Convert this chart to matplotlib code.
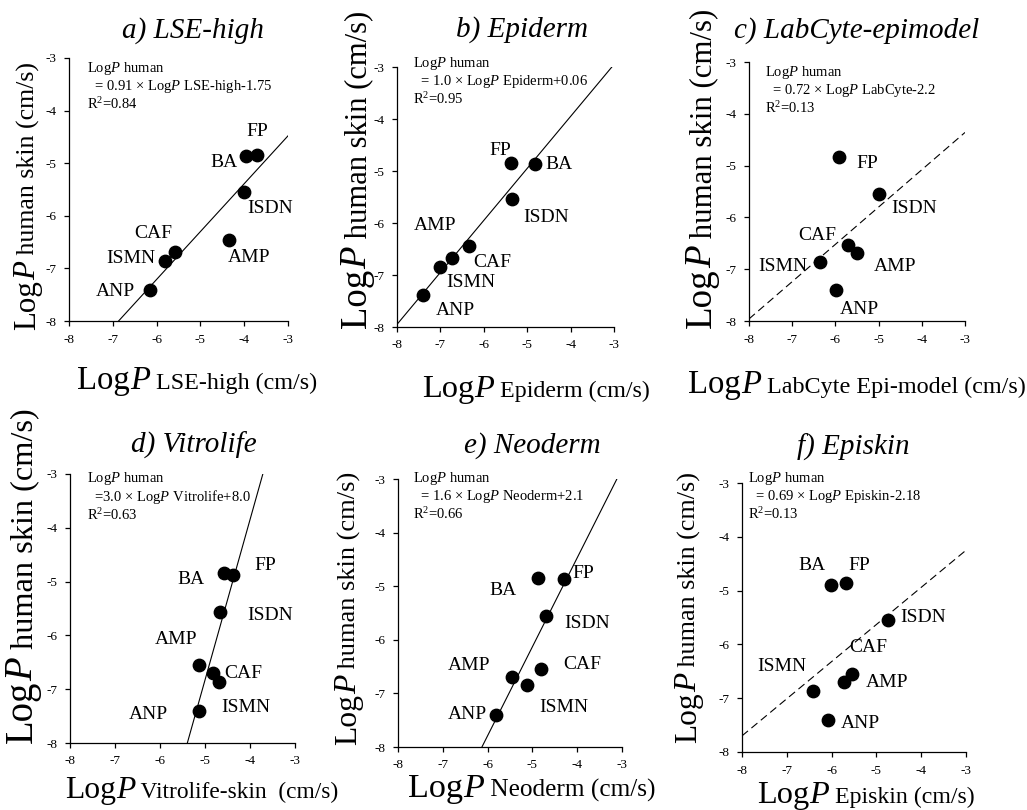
import matplotlib
matplotlib.use("Agg")
import matplotlib.pyplot as plt
import numpy as np
from matplotlib.transforms import IdentityTransform

plt.rcParams['font.family'] = ['Liberation Serif', 'DejaVu Serif']
plt.rcParams['mathtext.fontset'] = 'custom'
plt.rcParams['mathtext.rm'] = 'Liberation Serif'
plt.rcParams['mathtext.it'] = 'Liberation Serif:italic'

W, H = 1027, 810
DPI = 100

# ---------------- data ----------------
compounds = ["FP", "BA", "ISDN", "AMP", "CAF", "ISMN", "ANP"]

x_lse = [-3.71, -3.95, -4.00, -4.35, -5.58, -5.80, -6.14]
y_lse = [-4.84, -4.87, -5.55, -6.46, -6.68, -6.86, -7.41]

x_epiderm = [-5.37, -4.82, -5.35, -6.33, -6.73, -7.02, -7.39]
y_epiderm = [-4.85, -4.87, -5.54, -6.45, -6.67, -6.85, -7.39]

x_labcyte = [-5.91, None, -4.98, -5.70, -5.51, -6.35, -5.99]
y_labcyte = [-4.84, None, -5.55, -6.53, -6.69, -6.86, -7.41]

x_vitro = [-4.37, -4.57, -4.67, -5.14, -4.82, -4.70, -5.14]
y_vitro = [-4.87, -4.84, -5.56, -6.55, -6.69, -6.86, -7.41]

x_neo = [-4.29, -4.88, -4.70, -5.46, -4.80, -5.11, -5.81]
y_neo = [-4.87, -4.84, -5.55, -6.69, -6.54, -6.85, -7.40]

x_episkin = [-5.68, -6.01, -4.74, -5.72, -5.54, -6.42, -6.08]
y_episkin = [-4.85, -4.89, -5.55, -6.70, -6.55, -6.86, -7.41]

# regression lines as drawn (slope, intercept)
fit_slopes = [0.91, 1.0, 0.72, 2.98, 1.66, 0.69]
fit_intercepts = [-1.75, 0.05, -2.2, 8.07, 2.17, -2.18]
fit_dashed = [False, False, True, False, False, True]

titles = ["a) LSE-high", "b) Epiderm", "c) LabCyte-epimodel",
          "d) Vitrolife", "e) Neoderm", "f) Episkin"]
x_names = ["LSE-high (cm/s)", "Epiderm (cm/s)", "LabCyte Epi-model (cm/s)",
           "Vitrolife-skin  (cm/s)", "Neoderm (cm/s)", "Episkin (cm/s)"]
eq_lines = ["  = 0.91 \u00d7 Log$\\it{P}$ LSE-high-1.75",
            "  = 1.0 \u00d7 Log$\\it{P}$ Epiderm+0.06",
            "  = 0.72 \u00d7 Log$\\it{P}$ LabCyte-2.2",
            "  =3.0 \u00d7 Log$\\it{P}$ Vitrolife+8.0",
            "  = 1.6 \u00d7 Log$\\it{P}$ Neoderm+2.1",
            "  = 0.69 \u00d7 Log$\\it{P}$ Episkin-2.18"]
r2_values = ["0.84", "0.95", "0.13", "0.63", "0.66", "0.13"]

tick_values = [-8, -7, -6, -5, -4, -3]

panels_x = [x_lse, x_epiderm, x_labcyte, x_vitro, x_neo, x_episkin]
panels_y = [y_lse, y_epiderm, y_labcyte, y_vitro, y_neo, y_episkin]

# ---------------- layout (pixels) ----------------
axes_px = [(69, 58, 288, 321), (397, 67, 614, 327), (749, 62, 965, 321),
           (70, 474, 295, 743), (398, 479, 622, 747), (742, 483, 966, 752)]
title_px = [(193, 38), (522, 37), (857, 38), (194, 453), (532, 453), (853, 455)]
eq_px = [(87, 60), (413, 55), (765, 64), (87, 470), (413, 470), (748, 470)]
# xlabel: start x, baseline y, target length
xlab_px = [(77, 389, 240), (422, 397, 228), (688, 393, None),
           (65, 798, 273), (408, 797, 247), (757, 803, 218)]
# ylabel: baseline x, start y (bottom), target length
ylab_px = [(35, 330, 268), (366, 328, 318), (711, 328, 320),
           (32, 743, 335), (356, 745, 273), (696, 743, 271)]

# label offsets (pixels) per panel per compound
label_off = [
    {"FP": (0, 23), "BA": (-22, -6), "ISDN": (26, -16), "AMP": (20, -18),
     "CAF": (-22, 18), "ISMN": (-35, 3), "ANP": (-35, -2)},
    {"FP": (-11, 13), "BA": (24, 0), "ISDN": (34, -18), "AMP": (-34, 21),
     "CAF": (40, -5), "ISMN": (31, -15), "ANP": (32, -15)},
    {"FP": (28, -6), "ISDN": (35, -14), "AMP": (47, -22),
     "CAF": (-39, 18), "ISMN": (-37, -5), "ANP": (24, -19)},
    {"FP": (32, 9), "BA": (-33, -7), "ISDN": (50, -4), "AMP": (-23, 25),
     "CAF": (30, -1), "ISMN": (27, -26), "ANP": (-50, -3)},
    {"FP": (19, 6), "BA": (-35, -13), "ISDN": (41, -8), "AMP": (-43, 11),
     "CAF": (41, 4), "ISMN": (36, -22), "ANP": (-29, 0)},
    {"FP": (13, 17), "BA": (-19, 19), "ISDN": (35, 3), "AMP": (43, 0),
     "CAF": (16, 26), "ISMN": (-31, 24), "ANP": (32, -3)},
]

fig = plt.figure(figsize=(W / DPI, H / DPI), dpi=DPI)
renderer = fig.canvas.get_renderer()
ident = IdentityTransform()


def rich(pieces, x0, y0, rot, target=None, factor=None):
    """pieces: list of (text, size, style); x0,y0 in top-left pixel coords."""
    texts = []
    for s, size, style in pieces:
        t = fig.text(0, 0, s, fontsize=size, fontstyle=style,
                     family='Liberation Serif', rotation=rot,
                     rotation_mode='anchor', ha='left', va='baseline',
                     transform=ident)
        texts.append(t)

    def lengths():
        out = []
        for t in texts:
            e = t.get_window_extent(renderer)
            out.append(e.width if rot == 0 else e.height)
        return out

    L = lengths()
    f = 1.0
    if target is not None:
        f = target / sum(L)
    elif factor is not None:
        f = factor
    for t, (s, size, style) in zip(texts, pieces):
        t.set_fontsize(size * f)
    L = lengths()
    pos = x0 if rot == 0 else (H - y0)
    for t, l in zip(texts, L):
        if rot == 0:
            t.set_position((pos, H - y0))
        else:
            t.set_position((x0, pos))
        pos += l
    return f


a_factor = None
for i in range(6):
    l, t, r, b = axes_px[i]
    ax = fig.add_axes([l / W, 1 - b / H, (r - l) / W, (b - t) / H])
    ax.set_xlim(-8, -3)
    ax.set_ylim(-8, -3)
    for sp in ["top", "right"]:
        ax.spines[sp].set_visible(False)
    for sp in ["left", "bottom"]:
        ax.spines[sp].set_linewidth(0.9)
    ax.set_xticks(tick_values)
    ax.set_yticks(tick_values)
    ax.set_xticklabels([str(v) for v in tick_values])
    ax.set_yticklabels([str(v) for v in tick_values])
    ax.tick_params(direction='out', length=3.5, width=0.9, labelsize=9.5, pad=5.5)

    xs = np.array([v if v is not None else np.nan for v in panels_x[i]], float)
    ys = np.array([v if v is not None else np.nan for v in panels_y[i]], float)
    ax.scatter(xs, ys, s=80, color='black', zorder=3, clip_on=False)

    xl = np.array([-8.0, -3.0])
    ls = (0, (7, 4)) if fit_dashed[i] else '-'
    ax.plot(xl, fit_slopes[i] * xl + fit_intercepts[i], color='black',
            lw=0.8, ls=ls, zorder=2)

    for name, xv, yv in zip(compounds, xs, ys):
        if np.isnan(xv):
            continue
        dx, dy = label_off[i][name]
        ax.annotate(name, (xv, yv), xytext=(dx, dy), textcoords='offset pixels',
                    ha='center', va='center', fontsize=14,
                    family='Liberation Serif', zorder=4)

    ex, ey = eq_px[i]
    fig.text(ex, H - ey,
             "Log$\\it{P}$ human\n" + eq_lines[i] + "\nR$^2$=" + r2_values[i],
             transform=ident, ha='left', va='top', fontsize=10.5,
             family='Liberation Serif', linespacing=1.1)

    tx, ty = title_px[i]
    fig.text(tx, H - ty, titles[i], transform=ident, ha='center',
             va='baseline', fontsize=21, fontstyle='italic',
             family='Liberation Serif')

    # x label
    sx, by, tl = xlab_px[i]
    f = rich([("Log", 21, 'normal'), ("P", 21, 'italic'),
              (" " + x_names[i], 15.5, 'normal')], sx, by, 0,
             target=tl, factor=a_factor)
    if i == 0:
        a_factor = f

    # y label
    bx, sy, tl = ylab_px[i]
    rich([("Log", 21, 'normal'), ("P", 21, 'italic'),
          (" human skin (cm/s)", 17.5, 'normal')], bx, sy, 90, target=tl)

fig.savefig("out.png", dpi=DPI)
